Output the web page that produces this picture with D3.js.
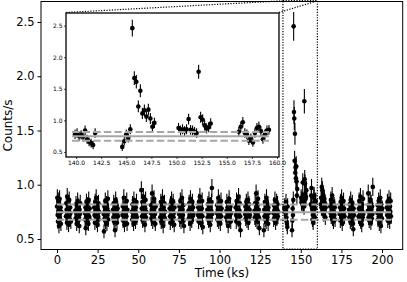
<!DOCTYPE html>
<html>
<head>
<meta charset="utf-8">
<script src="https://cdn.jsdelivr.net/npm/d3@7"></script>
<style>
body { margin: 0; background: #fff; }
text { font-family: "DejaVu Sans", sans-serif; }
</style>
</head>
<body>
<script>
// light curve, 0.2 ks bins, one row per good-time segment
var binWidth = 0.2;
var expo = 140; // effective seconds per bin, for the error bars

var segStart = [0.0, 5.5, 11.3, 17.1, 22.9, 28.7, 34.5, 40.3, 46.1, 51.9, 57.7, 63.5,
  69.3, 75.1, 80.9, 86.7, 92.5, 98.3, 104.1, 109.9, 115.7, 121.5, 127.3, 133.1,
  139.9, 144.6, 150.2, 156.2, 162.3, 168.1, 173.9, 179.7, 185.5, 191.3, 197.1, 202.9];

var segRates = [
  [0.80,0.88,0.72,0.66,0.85,0.76,0.62,0.70,0.87,0.74,0.68,0.79,0.64,0.75],
  [0.71,0.83,0.77,0.65,0.89,0.74,0.70,0.81,0.63,0.76,0.86,0.72,0.68,0.79,0.74,0.66],
  [0.76,0.69,0.82,0.73,0.64,0.78,0.71,0.85,0.67,0.75,0.80,0.70,0.62,0.77,0.73,0.83],
  [0.74,0.68,0.79,0.60,0.72,0.84,0.66,0.77,0.70,0.81,0.75,0.64,0.86,0.71,0.69,0.78],
  [0.79,0.72,0.65,0.84,0.76,0.70,0.88,0.67,0.74,0.80,0.63,0.77,0.71,0.83,0.68,0.75],
  [0.73,0.57,0.80,0.69,0.76,0.85,0.66,0.74,0.71,0.82,0.64,0.78,0.72,0.87,0.68,0.75],
  [0.77,0.70,0.83,0.66,0.74,0.79,0.58,0.72,0.86,0.69,0.76,0.81,0.65,0.73,0.78,0.71],
  [0.72,0.80,0.67,0.75,0.88,0.70,0.63,0.78,0.74,0.82,0.68,0.76,0.71,0.85,0.64,0.77],
  [0.75,0.68,0.82,0.71,0.77,0.64,0.86,0.73,0.69,0.80,0.76,0.66,0.79,0.72,0.84,0.70],
  [0.95,0.78,0.71,0.84,0.67,0.76,0.89,0.73,0.69,0.81,0.74,0.63,0.78,0.86,0.70,0.75],
  [0.74,0.81,0.69,0.77,0.92,0.72,0.66,0.83,0.75,0.70,0.87,0.68,0.79,0.73,0.64,0.80],
  [0.70,0.77,0.84,0.66,0.73,0.80,0.68,0.88,0.74,0.62,0.79,0.71,0.76,0.83,0.69,0.75],
  [0.78,0.71,0.65,0.82,0.75,0.69,0.86,0.73,0.80,0.67,0.76,0.84,0.70,0.74,0.63,0.79],
  [0.73,0.80,0.68,0.76,0.85,0.71,0.66,0.79,0.74,0.88,0.69,0.77,0.72,0.81,0.67,0.62],
  [0.76,0.69,0.83,0.72,0.78,0.64,0.87,0.74,0.70,0.81,0.67,0.75,0.84,0.71,0.79,0.73],
  [0.72,0.79,0.66,0.84,0.74,0.70,0.89,0.76,0.68,0.81,0.73,0.65,0.78,0.85,0.71,0.61],
  [0.77,0.70,0.82,0.74,0.67,0.86,0.72,0.79,0.75,0.63,0.81,0.69,0.76,0.84,0.97,0.73],
  [0.74,0.81,0.68,0.77,0.72,0.88,0.66,0.75,0.83,0.70,0.79,0.64,0.76,0.85,0.71,0.78],
  [0.70,0.76,0.84,0.67,0.79,0.73,0.62,0.82,0.75,0.87,0.69,0.77,0.72,0.80,0.66,0.74],
  [0.79,0.72,0.66,0.85,0.74,0.70,0.81,0.77,0.68,0.89,0.73,0.64,0.76,0.83,0.71,0.58],
  [0.73,0.80,0.69,0.76,0.84,0.71,0.67,0.78,0.75,0.86,0.65,0.74,0.82,0.70,0.77,0.72],
  [0.76,0.70,0.83,0.74,0.68,0.92,0.72,0.79,0.66,0.81,0.75,0.87,0.71,0.77,0.69,0.60],
  [0.58,0.77,0.71,0.84,0.68,0.75,0.80,0.66,0.88,0.73,0.70,0.82,0.76,0.64,0.79,0.74],
  [0.74,0.68,0.81,0.76,0.70,0.86,0.73,0.65,0.79,0.72,0.84,0.69,0.77,0.82,0.71,0.75],
  [0.78,0.80,0.75,0.77,0.74,0.84,0.70,0.66,0.64,0.61,0.80],
  [0.58,0.67,0.78,0.72,0.86,2.46,1.67,1.61,1.22,1.47,1.11,1.16,1.06,1.17,1.03,0.90,0.96],
  [0.88,0.84,0.86,0.83,0.86,1.02,0.85,0.84,0.82,0.80,1.77,1.05,1.01,0.92,0.87,0.89,0.95],
  [0.82,0.90,0.97,0.80,0.78,0.68,0.72,0.65,0.80,0.88,0.90,0.83,0.70,0.78,0.84,0.85],
  [0.82,0.88,0.79,0.98,0.86,0.95,0.77,0.84,0.90,0.73,0.81,0.87,0.76,0.83,0.70,0.79],
  [0.80,0.74,0.86,0.71,0.83,0.77,0.90,0.69,0.78,0.84,0.66,0.75,0.81,0.72,0.79,0.68],
  [0.73,0.79,0.67,0.84,0.75,0.70,0.88,0.72,0.64,0.81,0.76,0.69,0.85,0.74,0.78,0.71],
  [0.77,0.70,0.82,0.74,0.66,0.86,0.73,0.79,0.68,0.75,0.83,0.71,0.64,0.59,0.78,0.72],
  [0.71,0.78,0.85,0.69,0.76,0.72,0.89,0.66,0.80,0.74,0.63,0.82,0.75,0.70,0.87,0.73],
  [0.76,0.92,0.70,0.81,0.67,0.78,0.74,0.86,0.72,0.65,0.83,0.77,0.69,0.80,0.73,0.98],
  [0.74,0.81,0.68,0.77,0.85,0.71,0.64,0.79,0.75,0.88,0.70,0.62,0.82,0.76,0.69,0.78],
  [0.79,0.72,0.84,0.67,0.76,0.81,0.70,0.87,0.73,0.66,0.80,0.75,0.85,0.71]
];

var meanRate = 0.747, sigRate = 0.070;

var xTicks = [0, 25, 50, 75, 100, 125, 150, 175, 200];
var yTicks = [0.5, 1.0, 1.5, 2.0, 2.5];
var insetXTicks = [140, 142.5, 145, 147.5, 150, 152.5, 155, 157.5, 160];
var insetYTicks = [0.5, 1.0, 1.5, 2.0, 2.5];
var zoomT = [139.0, 160.2], zoomR = [0.42, 2.70];

var width = 407, height = 282;

var pts = [];
segStart.forEach(function(s, k) {
  segRates[k].forEach(function(r, i) {
    pts.push({t: s + i * binWidth, r: r, e: Math.sqrt(r / expo)});
  });
});
var tMin = d3.min(pts, function(d) { return d.t; }),
    tMax = d3.max(pts, function(d) { return d.t; });

var svg = d3.select("body").append("svg")
    .attr("width", width)
    .attr("height", height);

var x = d3.scaleLinear().domain([-9.85, 212.7]).range([41, 402.7]);
var y = d3.scaleLinear().domain([0.403, 2.689]).range([249.5, 1.5]);

function drawCurve(g, xs, ys, data, r) {
  g.selectAll("line.err").data(data).enter().append("line")
    .attr("class", "err")
    .attr("x1", function(d) { return xs(d.t); })
    .attr("x2", function(d) { return xs(d.t); })
    .attr("y1", function(d) { return ys(d.r - d.e); })
    .attr("y2", function(d) { return ys(d.r + d.e); })
    .style("stroke", "#000").style("stroke-width", 1.1);
  g.selectAll("circle").data(data).enter().append("circle")
    .attr("cx", function(d) { return xs(d.t); })
    .attr("cy", function(d) { return ys(d.r); })
    .attr("r", r)
    .style("fill", "#000");
}

function drawLevels(g, xs, ys, t0, t1) {
  [meanRate - sigRate, meanRate, meanRate + sigRate].forEach(function(v, i) {
    g.append("line")
      .attr("x1", xs(t0)).attr("x2", xs(t1))
      .attr("y1", ys(v)).attr("y2", ys(v))
      .style("stroke", "#a6a6a6").style("stroke-width", 2)
      .style("stroke-dasharray", i == 1 ? null : "7.4,3.2");
  });
}

// main panel
var main = svg.append("g");
drawCurve(main, x, y, pts, 2.3);
drawLevels(main, x, y, tMin, tMax);

var xAxis = svg.append("g")
    .attr("transform", "translate(0,249.5)")
    .call(d3.axisBottom(x).tickValues(xTicks).tickSize(3.5).tickPadding(3));
var yAxis = svg.append("g")
    .attr("transform", "translate(41,0)")
    .call(d3.axisLeft(y).tickValues(yTicks).tickSize(3.5).tickPadding(3).tickFormat(d3.format(".1f")));
[xAxis, yAxis].forEach(function(a) {
  a.select(".domain").remove();
  a.selectAll("text").style("font-size", "11.5px").style("fill", "#000");
  a.selectAll("line").style("stroke", "#000");
});

svg.append("rect")
  .attr("x", 41).attr("y", 1.5).attr("width", 361.7).attr("height", 248)
  .style("fill", "none").style("stroke", "#000").style("stroke-width", 1);

svg.append("text").attr("x", 222).attr("y", 277)
  .attr("text-anchor", "middle").style("font-size", "12px")
  .text("Time\u2009(ks)");
svg.append("text")
  .attr("transform", "translate(12,125.5) rotate(-90)")
  .attr("text-anchor", "middle").style("font-size", "12px")
  .text("Counts/s");

// zoom box and connectors
var ix = d3.scaleLinear().domain(zoomT).range([66, 279]);
var iy = d3.scaleLinear().domain(zoomR).range([157, 13]);

var dots = "1.2,1.5";
svg.append("rect")
  .attr("x", x(zoomT[0])).attr("y", y(zoomR[1]))
  .attr("width", x(zoomT[1]) - x(zoomT[0]))
  .attr("height", y(zoomR[0]) - y(zoomR[1]) + 1.5)
  .style("fill", "none").style("stroke", "#000")
  .style("stroke-width", 1.2).style("stroke-dasharray", dots);
[[ix.range()[0], x(zoomT[0])], [ix.range()[1], x(zoomT[1])]].forEach(function(c) {
  svg.append("line")
    .attr("x1", c[0]).attr("y1", 12.5)
    .attr("x2", c[1]).attr("y2", y(zoomR[1]) + 0.5)
    .style("stroke", "#000").style("stroke-width", 1.2)
    .style("stroke-dasharray", dots);
});

// inset
var inset = svg.append("g");
inset.append("rect")
  .attr("x", 66).attr("y", 13).attr("width", 213).attr("height", 144)
  .style("fill", "#fff");
var inPts = pts.filter(function(d) { return d.t >= zoomT[0] && d.t <= zoomT[1]; });
drawCurve(inset, ix, iy, inPts, 2.3);
drawLevels(inset, ix, iy, d3.min(inPts, function(d) { return d.t; }) - 0.3,
  d3.max(inPts, function(d) { return d.t; }));

var ixAxis = inset.append("g")
    .attr("transform", "translate(0,157)")
    .call(d3.axisBottom(ix).tickValues(insetXTicks).tickSize(2).tickPadding(1.5).tickFormat(d3.format(".1f")));
var iyAxis = inset.append("g")
    .attr("transform", "translate(66,0)")
    .call(d3.axisLeft(iy).tickValues(insetYTicks).tickSize(2).tickPadding(1.5).tickFormat(d3.format(".1f")));
[ixAxis, iyAxis].forEach(function(a) {
  a.select(".domain").remove();
  a.selectAll("text").style("font-size", "6px").style("fill", "#000");
  a.selectAll("line").style("stroke", "#000").style("stroke-width", 0.7);
});
inset.append("rect")
  .attr("x", 66).attr("y", 13).attr("width", 213).attr("height", 144)
  .style("fill", "none").style("stroke", "#000").style("stroke-width", 1.3);
</script>
</body>
</html>
